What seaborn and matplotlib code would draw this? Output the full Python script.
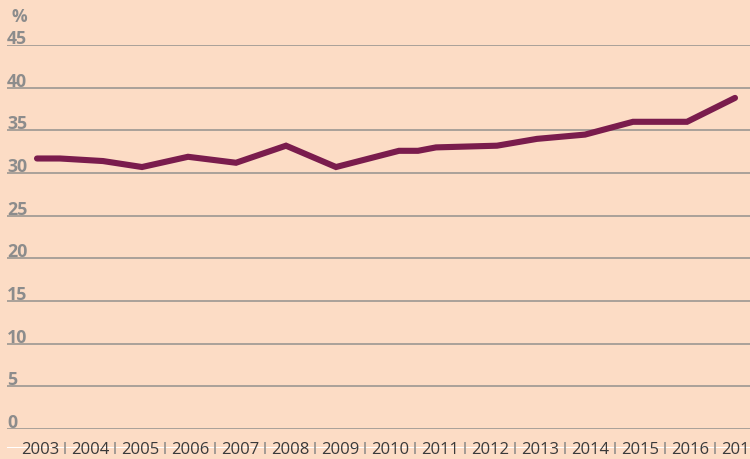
import matplotlib
matplotlib.use("Agg")
import matplotlib.pyplot as plt
import matplotlib.transforms as mtransforms
import seaborn as sns
import pandas as pd

# Data
x_pos = [2002.94, 2003.4, 2004.26, 2005.04, 2005.96, 2006.92, 2007.92, 2008.92,
         2010.18, 2010.56, 2010.92, 2012.14, 2012.94, 2013.9, 2014.86, 2015.94, 2016.9]
values = [31.7, 31.7, 31.4, 30.7, 31.9, 31.2, 33.2, 30.7,
          32.6, 32.6, 33.0, 33.2, 34.0, 34.5, 36.0, 36.0, 38.8]
years = list(range(2003, 2018))
year_labels = [str(y) for y in years]
y_ticks = [0, 5, 10, 15, 20, 25, 30, 35, 40, 45]
y_labels = [str(v) for v in y_ticks]

BG = "#FCDCC5"
LINE = "#7A1C4D"
GRID = "#A39C96"
YLAB = "#8C8C8C"
XLAB = "#3A3A3A"

sns.set_theme(style="white")
plt.rcParams["font.family"] = ["Open Sans", "DejaVu Sans"]

fig = plt.figure(figsize=(7.5, 4.6), dpi=100, facecolor=BG)
W, H = 750, 460
ax = fig.add_axes([7 / W, (H - 430) / H, 1 - 7 / W, (430 - 46) / H])
ax.set_facecolor(BG)

df = pd.DataFrame({"x": x_pos, "y": values})
sns.lineplot(data=df, x="x", y="y", ax=ax, color=LINE, linewidth=4.4,
             solid_capstyle="round", solid_joinstyle="miter", sort=False, zorder=3)

ax.set_xlim(2003 - 33 / 50, 2003 + 710 / 50)
ax.set_ylim(0, 45)
ax.set_xlabel("")
ax.set_ylabel("")

for s in ax.spines.values():
    s.set_visible(False)

# gridlines
ax.set_yticks(y_ticks)
ax.yaxis.grid(True, color=GRID, linewidth=1.3)
ax.xaxis.grid(False)
ax.set_axisbelow(True)

# y tick labels: left-aligned, sitting above gridlines
ax.set_yticklabels(y_labels)
ax.tick_params(axis="y", length=0, pad=0)
offset = mtransforms.ScaledTranslation(0, -2 / 100, fig.dpi_scale_trans)
for lab in ax.get_yticklabels():
    lab.set_horizontalalignment("left")
    lab.set_verticalalignment("bottom")
    lab.set_fontsize(12.8)
    lab.set_fontweight("bold")
    lab.set_color(YLAB)
    lab.set_transform(lab.get_transform() + offset)

# x tick labels
ax.set_xticks(years)
ax.set_xticklabels(year_labels, fontsize=12, color=XLAB)
ax.tick_params(axis="x", length=0, pad=9)

# separators between year labels
sec = ax.secondary_xaxis(-18.5 / 384)
sec.spines["bottom"].set_visible(False)
sec.set_xticks([y + 0.5 for y in years[:-1]])
sec.set_xticklabels([])
sec.tick_params(axis="x", direction="inout", length=9, width=1.3, color="#9C9690")

fig.text(12 / W, (H - 22) / H, "%", fontsize=12.5, fontweight="bold", color=YLAB,
         ha="left", va="baseline")

fig.savefig("out.png", dpi=100, facecolor=BG)
